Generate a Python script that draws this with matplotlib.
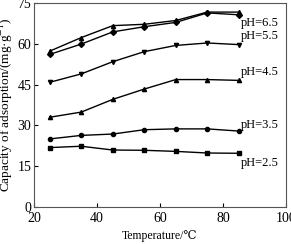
import matplotlib
matplotlib.use("Agg")
from matplotlib import pyplot as plt

temperature = [25, 35, 45, 55, 65, 75, 85]

ph_65 = [57.4, 62.4, 66.8, 67.3, 68.7, 71.8, 71.8]
ph_55 = [56.2, 60.0, 64.5, 66.4, 68.0, 71.5, 70.8]
ph_45 = [45.9, 49.0, 53.5, 57.2, 59.5, 60.4, 59.8]
ph_35 = [33.0, 34.9, 39.6, 43.4, 46.9, 46.9, 46.6]
ph_25 = [25.0, 26.3, 26.8, 28.4, 28.7, 28.7, 27.9]
ph_15 = [21.8, 22.3, 20.9, 20.8, 20.4, 19.8, 19.7]

series = [ph_65, ph_55, ph_45, ph_35, ph_25, ph_15]
markers = ['^', 'D', 'v', '^', 'o', 's']

labels = ['pH=6.5', 'pH=5.5', 'pH=4.5', 'pH=3.5', 'pH=2.5']
label_y = [67.8, 63.0, 49.8, 30.3, 16.2]

plt.rcParams['font.family'] = ['Liberation Serif', 'DejaVu Serif']
plt.rcParams['mathtext.fontset'] = 'stix'

fig = plt.figure(figsize=(2.91, 2.44), dpi=100)
ax = fig.add_axes([0.117, 0.153, 0.866, 0.833])

for vals, m in zip(series, markers):
    ax.plot(temperature, vals, color='black', lw=1.0, marker=m, markersize=3)

for lab, y in zip(labels, label_y):
    ax.text(85.6, y, lab, fontsize=9, va='center', ha='left')

ax.set_xlim(20, 100)
ax.set_ylim(0, 75)
ax.set_xticks([20, 40, 60, 80, 100])
ax.set_yticks([0, 15, 30, 45, 60, 75])
ax.tick_params(direction='in', labelsize=10, length=3, width=0.8)
ax.tick_params(axis='x', pad=4)
ax.tick_params(axis='y', pad=2)
for s in ax.spines.values():
    s.set_color('#555555')
ax.set_xlabel('Temperature/℃', fontsize=8.5, labelpad=3.5)
ax.set_ylabel('Capacity of adsorption/(mg·g$^{-1}$)', fontsize=9.5, labelpad=2)

fig.savefig('out.png', dpi=100)
